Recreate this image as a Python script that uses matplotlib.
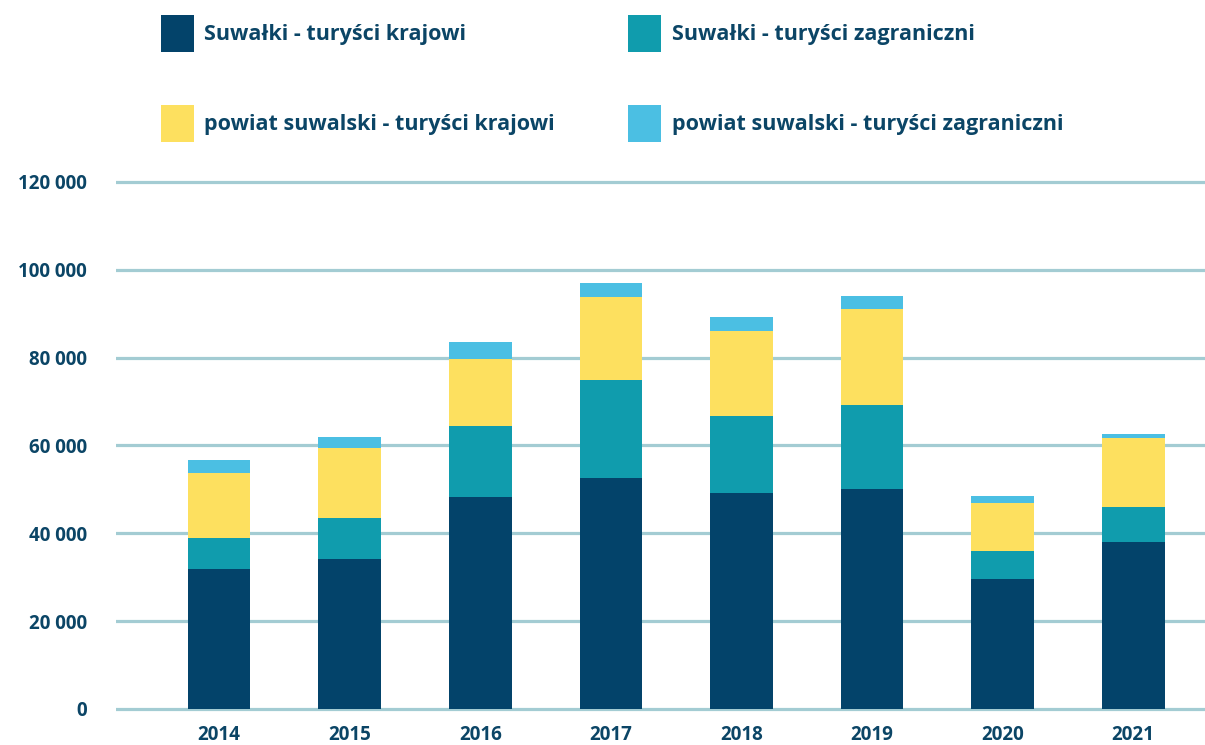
import numpy as np
import matplotlib
matplotlib.use("Agg")
import matplotlib.pyplot as plt

years = ["2014", "2015", "2016", "2017", "2018", "2019", "2020", "2021"]
suwalki_krajowi = [31900, 34200, 48300, 52600, 49200, 50100, 29500, 38000]
suwalki_zagraniczni = [7100, 9300, 16200, 22300, 17500, 19100, 6400, 7900]
powiat_krajowi = [14800, 16000, 15300, 18900, 19400, 21900, 11100, 15700]
powiat_zagraniczni = [2900, 2500, 3800, 3200, 3200, 3000, 1600, 1100]

labels = [
    "Suwałki - turyści krajowi",
    "Suwałki - turyści zagraniczni",
    "powiat suwalski - turyści krajowi",
    "powiat suwalski - turyści zagraniczni",
]
colors = ["#03436A", "#109CAD", "#FDE05F", "#4BBFE3"]
text_color = "#0B4566"
grid_color = "#A3CCD3"

plt.rcParams["font.family"] = ["Open Sans", "DejaVu Sans"]
plt.rcParams["font.weight"] = "bold"

fig = plt.figure(figsize=(12.05, 7.45), dpi=100)
ax = fig.add_axes([116 / 1205, 0.0395, 1 - 116 / 1205, 0.728])

x = np.arange(len(years))
series = [suwalki_krajowi, suwalki_zagraniczni, powiat_krajowi, powiat_zagraniczni]
bottom = np.zeros(len(years))
bars = []
for vals, col, lab in zip(series, colors, labels):
    b = ax.bar(x, vals, bottom=bottom, width=0.48, color=col, label=lab, zorder=3)
    bars.append(b)
    bottom += np.array(vals)

ax.set_xlim(-0.79, 7.55)
ax.set_ylim(-1500, 122000)
ax.set_yticks(np.arange(0, 120001, 20000))
ax.set_yticklabels([f"{v:,}".replace(",", " ") for v in range(0, 120001, 20000)])
ax.set_xticks(x)
ax.set_xticklabels(years)
ax.grid(axis="y", color=grid_color, linewidth=2.3)
ax.set_axisbelow(True)
for s in ax.spines.values():
    s.set_visible(False)
ax.tick_params(axis="both", length=0, labelsize=13.5, colors=text_color)
ax.tick_params(axis="y", pad=21)
ax.tick_params(axis="x", pad=6.5)
for t in ax.get_xticklabels() + ax.get_yticklabels():
    t.set_fontweight("bold")

# legend: two columns, filled column-first
handles = [bars[0], bars[2], bars[1], bars[3]]
leg_labels = [labels[0], labels[2], labels[1], labels[3]]
fig.legend(handles, leg_labels, loc="upper left", bbox_to_anchor=(150 / 1205, 1 - 4 / 745),
           ncol=2, frameon=False, handlelength=1.53, handleheight=2.26, borderpad=0,
           handletextpad=0.5, labelspacing=2.46, columnspacing=3.4, labelcolor=text_color,
           prop={"weight": "bold", "size": 15.5})

fig.savefig("out.png", dpi=100)
